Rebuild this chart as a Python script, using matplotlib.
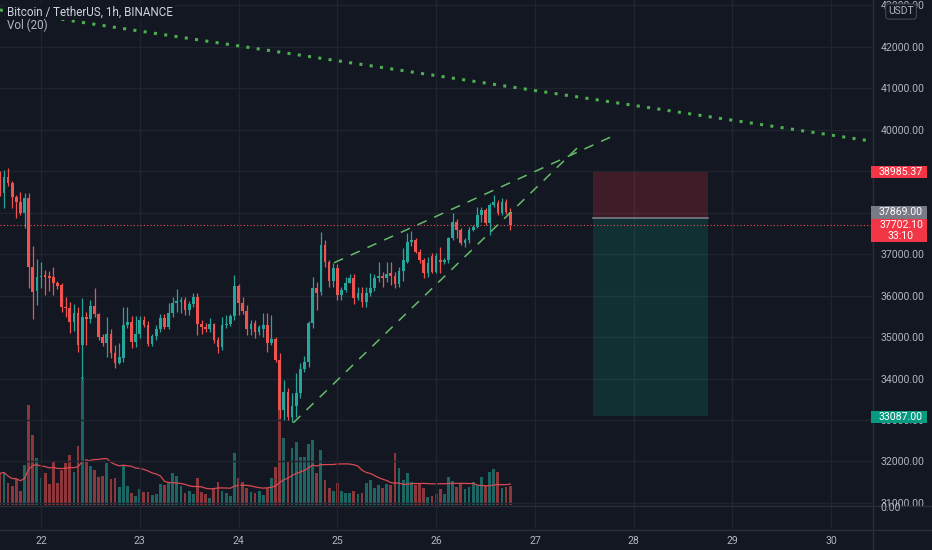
import numpy as np
import pandas as pd
import matplotlib
matplotlib.use("Agg")
import matplotlib.pyplot as plt
from matplotlib.patches import Rectangle
from matplotlib.lines import Line2D

plt.rcParams['font.family'] = ['Roboto', 'DejaVu Sans']

# ---------------- data ----------------
start_hour = -10  # hourly bars, hours relative to the 22nd 00:00
opens = [38950, 38470, 38860, 38710, 38380, 38250, 37990, 38350, 36690, 36110,
         36440, 36500, 36470, 36450, 36300, 36250, 35720, 35700, 35370, 35580,
         34810, 35480, 35430, 35750, 35560, 35000, 34850, 35080, 34620, 34370,
         34500, 35290, 35370, 34880, 35070, 35400, 35290, 34840, 35030, 35200,
         35450, 35240, 35570, 35820, 35850, 35890, 35650, 35800, 35960, 35310,
         35250, 35190, 35320, 34920, 34750, 35280, 35320, 35500, 36230, 35820,
         35630, 35190, 35330, 35120, 35200, 35290, 34860, 34950, 34450, 33240,
         33680, 33070, 33340, 33650, 34230, 34400, 35340, 36180, 36080, 37220,
         36810, 36350, 36660, 36010, 36130, 36300, 36420, 35930, 36060, 35850,
         36060, 36180, 36420, 36480, 36420, 36550, 36480, 36280, 36600, 36810,
         37290, 37330, 37050, 36860, 36540, 36950, 36560, 36860, 36820, 36860,
         37390, 37770, 37580, 37270, 37340, 37580, 37650, 37940, 38060, 37750,
         38180, 38230, 37990, 38250, 38010]
highs = [39000, 39030, 39080, 38760, 38420, 38500, 38470, 38470, 37190, 36880,
         36820, 36620, 36600, 36690, 36350, 36300, 35960, 35840, 35800, 35720,
         35940, 35600, 35890, 36180, 35580, 35080, 35480, 35200, 34810, 34860,
         35720, 35720, 35500, 35500, 35500, 35500, 35380, 35080, 35290, 35560,
         35560, 35810, 35960, 36160, 35970, 35960, 35880, 36060, 36050, 35400,
         35330, 35470, 35350, 35000, 35480, 35520, 35560, 36500, 36280, 35970,
         35770, 35400, 35400, 35290, 35580, 35580, 35520, 35000, 34620, 33960,
         33780, 33650, 34130, 34370, 34550, 35390, 36440, 36330, 37530, 37330,
         36860, 36790, 36770, 36200, 36450, 36520, 36520, 36200, 36200, 36200,
         36540, 36530, 36810, 36570, 36800, 36810, 36570, 36700, 37150, 37510,
         37550, 37390, 37120, 36900, 36930, 37020, 37020, 37170, 36900, 37410,
         37990, 37840, 37630, 37390, 37650, 37700, 38130, 38130, 38110, 38230,
         38420, 38300, 38350, 38330, 38110]
lows = [38400, 38110, 38650, 38100, 37870, 37940, 37630, 36180, 35430, 35770,
        36180, 36020, 36100, 36020, 36150, 35600, 35480, 35100, 35150, 34640,
        33960, 34800, 35330, 35490, 34940, 34790, 34520, 34500, 34250, 34350,
        34400, 35230, 34730, 34760, 34970, 35250, 34780, 34780, 34940, 35120,
        35200, 35200, 35480, 35600, 35580, 35530, 35530, 35730, 35040, 35070,
        35120, 35120, 34850, 34620, 34680, 35230, 35260, 35400, 35530, 35560,
        35050, 35050, 34970, 35050, 35000, 34640, 34800, 34400, 33050, 33000,
        32990, 32950, 33070, 33520, 34160, 34280, 35230, 35650, 36020, 36690,
        36210, 36210, 35900, 35900, 36090, 36300, 35800, 35900, 35720, 35720,
        35990, 36120, 36330, 36200, 36330, 36250, 36190, 36200, 36350, 36780,
        37200, 37020, 36780, 36420, 36440, 36540, 36540, 36540, 36750, 36790,
        37340, 37390, 37220, 37170, 37270, 37560, 37630, 37770, 37700, 37460,
        38130, 37940, 37940, 37970, 37580]
closes = [38430, 38860, 38710, 38380, 38260, 37990, 38350, 36690, 36090, 36440,
          36480, 36450, 36420, 36300, 36230, 35720, 35700, 35370, 35580, 34810,
          35480, 35430, 35750, 35560, 35000, 34850, 35080, 34620, 34370, 34520,
          35290, 35370, 34880, 35070, 35400, 35290, 34840, 35030, 35200, 35450,
          35240, 35570, 35820, 35870, 35890, 35650, 35800, 35960, 35310, 35250,
          35190, 35320, 34920, 34750, 35280, 35320, 35500, 36230, 35820, 35630,
          35190, 35320, 35120, 35240, 35290, 34860, 34950, 34450, 33240, 33680,
          33070, 33340, 33650, 34230, 34400, 35340, 36180, 36060, 37220, 36810,
          36350, 36660, 36010, 36130, 36300, 36420, 35940, 36060, 35850, 36060,
          36180, 36420, 36480, 36420, 36530, 36480, 36280, 36600, 36850, 37290,
          37330, 37050, 36860, 36540, 36780, 36560, 36950, 36820, 36860, 37390,
          37770, 37580, 37270, 37340, 37580, 37650, 37940, 38060, 37750, 38180,
          38250, 37990, 38250, 38010, 37702.10]
volumes = [31.7, 33.3, 21.7, 19.0, 25.7, 14.3, 40.0, 100.0, 70.0, 46.7,
           26.7, 32.3, 21.0, 44.0, 22.3, 35.0, 41.7, 50.0, 33.3, 59.0,
           128.0, 45.7, 39.0, 35.0, 27.7, 29.0, 42.3, 25.7, 27.3, 18.3,
           40.0, 19.0, 11.7, 9.0, 15.7, 13.3, 13.3, 10.0, 11.0, 21.0,
           20.0, 23.3, 31.7, 29.0, 19.0, 11.7, 14.3, 11.0, 26.7, 13.3,
           11.0, 6.7, 16.7, 23.3, 14.3, 12.3, 9.0, 51.7, 26.7, 23.3,
           16.7, 13.3, 11.7, 14.0, 10.0, 16.7, 26.7, 38.3, 95.0, 66.7,
           44.3, 56.7, 63.3, 48.3, 48.3, 61.0, 65.0, 32.3, 55.0, 25.0,
           17.3, 14.3, 22.3, 14.3, 12.3, 12.3, 14.0, 11.0, 12.3, 21.7,
           25.0, 16.7, 20.0, 16.7, 21.0, 20.0, 52.3, 37.3, 25.0, 32.3,
           23.3, 20.0, 21.7, 16.7, 7.7, 9.0, 11.0, 15.7, 11.0, 28.3,
           24.3, 18.3, 21.0, 15.7, 17.7, 23.3, 20.0, 28.3, 19.0, 33.3,
           36.0, 32.7, 16.7, 18.3, 19.0]
day_labels = ['22', '23', '24', '25', '26', '27', '28', '29', '30']
price_ticks = list(range(31000, 44000, 1000))

trend_t = [-10, 202]
trend_p = [42885, 39720]
wedge_upper_t = [71.2, 138.8]
wedge_upper_p = [36791, 39840]
wedge_lower_t = [61.3, 130.5]
wedge_lower_p = [32933, 39580]
stop_price = 38985.37
entry_price = 37869.00
target_price = 33087.00
last_price = 37702.10
countdown = '33:10'
pos_t = [134.1, 162.1]

# ---------------- figure ----------------
W, H = 932, 550
BG = '#131722'
GRID = '#20242f'
TXT = '#b2b5be'
UP = '#26a69a'
DN = '#ef5350'

fig = plt.figure(figsize=(W / 100, H / 100), dpi=100, facecolor=BG)
rect = [0, 21 / H, 872 / W, 529 / H]
axv = fig.add_axes(rect, facecolor=BG)
ax = fig.add_axes(rect)
ax.patch.set_visible(False)

xlim = (-9.96, 201.9)
ax.set_xlim(*xlim)
axv.set_xlim(*xlim)
ax.set_ylim(30372, 43126)
axv.set_ylim(-24, 505)
axv.axis('off')
for s in ax.spines.values():
    s.set_visible(False)

# grid and ticks
ax.set_xticks([24 * i for i in range(len(day_labels))])
ax.set_xticklabels(day_labels)
ax.set_yticks(price_ticks)
ax.set_yticklabels([f'{p:.2f}' for p in price_ticks])
ax.yaxis.tick_right()
ax.grid(True, color=GRID, lw=1, zorder=0)
ax.set_axisbelow(True)
ax.tick_params(axis='y', length=0, pad=6, labelsize=7.6, labelcolor=TXT)
ax.tick_params(axis='x', length=0, pad=5, labelsize=7.6, labelcolor=TXT)

t = np.arange(len(opens)) + start_hour
o = np.array(opens, float)
c = np.array(closes, float)
hi = np.array(highs, float)
lo = np.array(lows, float)
up = c >= o
cols = np.where(up, UP, DN)

# volume
axv.bar(t, volumes, width=0.68, color=cols, alpha=0.55, lw=0)
ma = pd.Series(volumes).rolling(20, min_periods=1).mean()
axv.plot(t, ma, color='#d84a52', lw=0.9)

# candles
ax.vlines(t, lo, hi, colors=cols, lw=0.9, zorder=3)
ax.bar(t, np.maximum(np.abs(c - o), 25), bottom=np.minimum(o, c), width=0.66,
       color=cols, lw=0, zorder=4)

# position tool
ax.add_patch(Rectangle((pos_t[0], entry_price), pos_t[1] - pos_t[0], stop_price - entry_price,
                       facecolor='#f23645', alpha=0.2, lw=0, zorder=1))
ax.add_patch(Rectangle((pos_t[0], target_price), pos_t[1] - pos_t[0], entry_price - target_price,
                       facecolor='#089981', alpha=0.2, lw=0, zorder=1))
ax.plot(pos_t, [entry_price, entry_price], color='#787b86', lw=1.2, zorder=2)

# last price line
ax.axhline(last_price, color=DN, lw=0.8, ls=(0, (1, 2)), zorder=2)

# trend lines
ax.plot(trend_t, trend_p, color='#4caf50', lw=2.2, ls=(0, (1, 2.4)),
        dash_capstyle='butt', zorder=5)
ax.plot(wedge_upper_t, wedge_upper_p, color='#66bb6a', lw=1.1, ls=(0, (6.5, 5.5)), zorder=5)
ax.plot(wedge_lower_t, wedge_lower_p, color='#66bb6a', lw=1.1, ls=(0, (6.5, 5.5)), zorder=5)

# borders
def fig_line(x0, y0, x1, y1, color='#2a2e39'):
    fig.add_artist(Line2D([x0 / W, x1 / W], [1 - y0 / H, 1 - y1 / H],
                          transform=fig.transFigure, color=color, lw=1))

fig_line(872.5, 0, 872.5, 550)
fig_line(0, 529.5, 932, 529.5)
fig_line(0, 506, 932, 506)

fig.text(880 / W, 1 - 508 / H, '0.00', color=TXT, fontsize=7.6, ha='left', va='center')

# price labels on scale
def price_box(y0, y1, color, lines, tcol='white'):
    fig.add_artist(Rectangle((871 / W, 1 - y1 / H), 56 / W, (y1 - y0) / H,
                             transform=fig.transFigure, facecolor=color, lw=0, zorder=6))
    n = len(lines)
    step = (y1 - y0) / n
    for i, s in enumerate(lines):
        fig.text(901 / W, 1 - (y0 + step * (i + 0.5)) / H, s, color=tcol, fontsize=7.6,
                 ha='center', va='center', zorder=7)

price_box(165.7, 178.3, '#f23645', [f'{stop_price:.2f}'])
price_box(206.0, 218.5, '#787b86', [f'{entry_price:.2f}'])
price_box(219.0, 242.0, '#f23645', [f'{last_price:.2f}', countdown])
price_box(410.7, 423.3, '#089981', [f'{target_price:.2f}'])

# USDT box
fig.text(901 / W, 1 - 11.5 / H, 'USDT', color=TXT, fontsize=7.4, ha='center', va='center', zorder=8,
         bbox=dict(boxstyle='round,pad=0.25,rounding_size=0.3', facecolor=BG, edgecolor='#434651', lw=0.8))

# legend text
fig.text(7 / W, 1 - 12 / H, 'Bitcoin / TetherUS, 1h, BINANCE', color='#d1d4dc', fontsize=8.4,
         ha='left', va='center', zorder=8,
         bbox=dict(boxstyle='square,pad=0.15', facecolor=BG, edgecolor='none'))
fig.text(7 / W, 1 - 25 / H, 'Vol (20)', color=TXT, fontsize=8.4, ha='left', va='center', zorder=8)

fig.savefig('out.png', dpi=100, facecolor=BG)
